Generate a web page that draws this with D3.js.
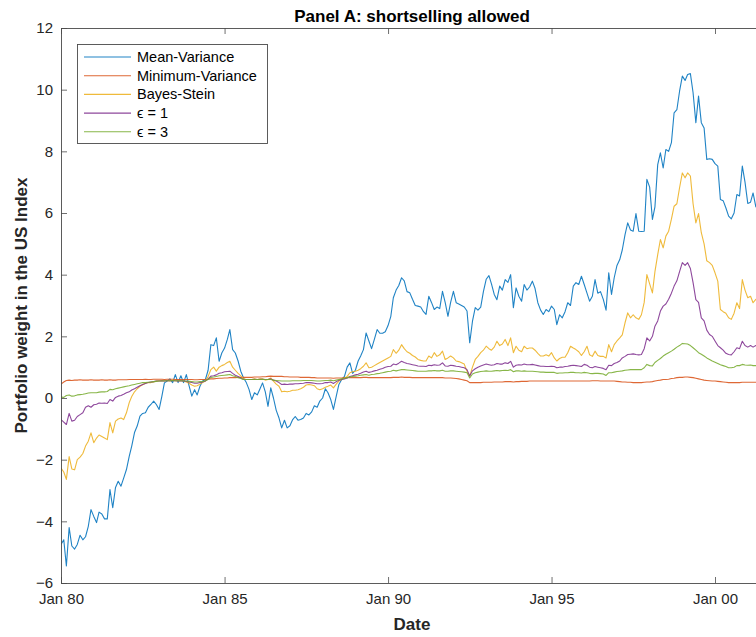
<!DOCTYPE html>
<html>
<head>
<meta charset="utf-8">
<script src="https://cdn.jsdelivr.net/npm/d3@7"></script>
<style>
  body { margin: 0; background: #fff; }
  svg { display: block; }
  text { font-family: "Liberation Sans", Arial, Helvetica, sans-serif; }
</style>
</head>
<body>
<svg id="chart" width="756" height="637"></svg>
<script>
// Monthly observations starting January 1980
const startMonth = new Date(1980, 0, 1);
const endDomain = new Date(2001, 5, 20);

const xTickYears = [1980, 1985, 1990, 1995, 2000];
const yTicks = [-6, -4, -2, 0, 2, 4, 6, 8, 10, 12];

const seriesNames = ["Mean-Variance", "Minimum-Variance", "Bayes-Stein", "\u03F5 = 1", "\u03F5 = 3"];
const seriesColors = ["#0072BD", "#D95319", "#EDB120", "#7E2F8E", "#77AC30"];

const meanVariance = [
  -4.75, -4.6, -5.45, -4.2, -4.8, -4.9, -4.75, -4.45, -4.6, -4.5, -4.16, -3.62,
  -3.84, -4.04, -3.7, -3.76, -3.92, -3.92, -2.97, -3.56, -2.9, -2.7, -2.86, -2.6,
  -2.32, -1.89, -1.56, -1.12, -0.91, -0.59, -0.5, -0.48, -0.3, -0.21, -0.1, -0.21,
  -0.37, 0.06, 0.49, 0.55, 0.62, 0.5, 0.76, 0.5, 0.72, 0.5, 0.76, 0.4,
  0.06, 0.27, 0.1, 0.38, 0.55, 0.6, 0.9, 1.73, 1.7, 1.95, 1.19, 1.46,
  1.62, 1.9, 2.22, 1.57, 1.46, 1.2, 0.87, 0.65, 0.5, 0.28, -0.05, 0.17,
  0.1, 0.3, 0.49, 0.2, -0.27, 0.33, 0.0, -0.4, -0.65, -0.97, -0.72, -0.97,
  -0.9, -0.7, -0.6, -0.72, -0.7, -0.65, -0.5, -0.55, -0.45, -0.25, -0.3, -0.1,
  0.0, 0.3, 0.17, -0.05, -0.37, 0.05, 0.44, 0.6, 0.7, 1.0, 1.14, 0.8,
  0.9, 1.2, 1.36, 1.57, 2.11, 1.85, 1.6, 1.9, 2.22, 2.1, 2.1, 2.15,
  2.35, 2.65, 3.25, 3.5, 3.65, 3.9, 3.8, 3.45, 3.41, 3.2, 3.0, 2.98,
  2.95, 2.8, 2.71, 3.3, 3.1, 2.87, 2.95, 2.9, 3.46, 3.1, 2.65, 3.1,
  3.46, 3.09, 3.05, 3.0, 2.95, 2.82, 1.79, 2.49, 2.93, 2.85, 2.95, 3.45,
  3.85, 3.97, 3.7, 3.36, 3.19, 3.63, 3.5, 3.84, 3.75, 4.0, 2.93, 3.57,
  3.3, 3.14, 3.68, 3.5, 3.6, 3.79, 3.55, 3.09, 2.85, 2.71, 2.87, 2.8,
  2.98, 2.87, 2.38, 2.7, 2.6, 2.8, 3.09, 3.0, 3.63, 3.74, 3.68, 3.95,
  3.68, 3.4, 3.14, 3.3, 3.84, 3.4, 3.45, 3.2, 2.85, 4.06, 3.36, 3.9,
  4.3, 4.49, 4.8, 5.3, 5.68, 5.45, 5.41, 5.98, 5.41, 5.4, 5.41, 7.09,
  6.84, 5.79, 6.2, 7.57, 7.95, 7.46, 8.06, 8.0, 8.28, 9.25, 9.35, 9.95,
  10.44, 10.3, 10.49, 10.52, 9.9, 8.93, 9.79, 8.93, 8.76, 7.74, 7.76, 7.74,
  7.6, 7.52, 6.44, 6.4, 6.17, 5.9, 5.81, 6.0, 6.6, 6.55, 7.52, 7.0,
  6.31, 6.35, 6.65, 6.2, 6.3, 6.1
];

const minimumVariance = [
  0.45, 0.52, 0.57, 0.58, 0.57, 0.58, 0.58, 0.59, 0.58, 0.58, 0.58, 0.59,
  0.58, 0.58, 0.58, 0.59, 0.58, 0.58, 0.59, 0.58, 0.58, 0.59, 0.59, 0.59,
  0.59, 0.6, 0.6, 0.6, 0.6, 0.6, 0.6, 0.61, 0.6, 0.6, 0.61, 0.61,
  0.61, 0.61, 0.6, 0.61, 0.61, 0.61, 0.6, 0.6, 0.6, 0.6, 0.6, 0.6,
  0.6, 0.59, 0.59, 0.6, 0.6, 0.6, 0.61, 0.62, 0.62, 0.63, 0.64, 0.64,
  0.65, 0.65, 0.66, 0.66, 0.66, 0.67, 0.67, 0.67, 0.67, 0.67, 0.67, 0.68,
  0.68, 0.68, 0.69, 0.69, 0.7, 0.71, 0.7, 0.7, 0.7, 0.7, 0.69, 0.69,
  0.68, 0.68, 0.68, 0.68, 0.67, 0.67, 0.67, 0.67, 0.66, 0.66, 0.65, 0.65,
  0.65, 0.65, 0.65, 0.65, 0.64, 0.65, 0.65, 0.65, 0.66, 0.66, 0.66, 0.66,
  0.66, 0.66, 0.66, 0.67, 0.67, 0.66, 0.66, 0.66, 0.66, 0.66, 0.66, 0.66,
  0.66, 0.66, 0.67, 0.67, 0.67, 0.68, 0.67, 0.67, 0.67, 0.66, 0.66, 0.66,
  0.66, 0.66, 0.66, 0.66, 0.66, 0.66, 0.66, 0.66, 0.66, 0.65, 0.65, 0.65,
  0.64, 0.63, 0.62, 0.6, 0.58, 0.56, 0.5, 0.5, 0.5, 0.5, 0.5, 0.51,
  0.51, 0.51, 0.51, 0.52, 0.52, 0.52, 0.52, 0.53, 0.53, 0.53, 0.52, 0.53,
  0.53, 0.54, 0.54, 0.54, 0.55, 0.55, 0.55, 0.55, 0.55, 0.55, 0.55, 0.55,
  0.55, 0.55, 0.55, 0.55, 0.55, 0.55, 0.55, 0.55, 0.55, 0.55, 0.55, 0.55,
  0.55, 0.55, 0.55, 0.56, 0.56, 0.56, 0.55, 0.55, 0.55, 0.55, 0.55, 0.55,
  0.54, 0.53, 0.52, 0.52, 0.51, 0.51, 0.5, 0.5, 0.5, 0.5, 0.51, 0.52,
  0.52, 0.53, 0.55, 0.57, 0.58, 0.6, 0.6, 0.61, 0.63, 0.64, 0.66, 0.67,
  0.67, 0.68, 0.68, 0.67, 0.66, 0.64, 0.62, 0.6, 0.58, 0.57, 0.56, 0.55,
  0.55, 0.54, 0.53, 0.52, 0.51, 0.5, 0.5, 0.5, 0.5, 0.5, 0.51, 0.51,
  0.51, 0.51, 0.51, 0.51, 0.51, 0.51
];

const bayesStein = [
  -2.27, -2.4, -2.64, -1.9, -2.3, -2.33, -2.0, -1.92, -1.8, -1.56, -1.4, -1.13,
  -1.45, -1.3, -1.2, -1.25, -1.3, -1.35, -0.8, -1.13, -0.75, -0.68, -0.65, -0.7,
  -0.48, -0.15, 0.05, 0.2, 0.3, 0.38, 0.43, 0.48, 0.5, 0.5, 0.52, 0.55,
  0.56, 0.57, 0.55, 0.57, 0.55, 0.58, 0.56, 0.55, 0.57, 0.55, 0.52, 0.48,
  0.42, 0.38, 0.4, 0.45, 0.5, 0.55, 0.7, 0.92, 1.0, 0.87, 1.0, 1.05,
  1.09, 1.15, 1.19, 1.0, 0.9, 0.8, 0.72, 0.62, 0.6, 0.6, 0.6, 0.62,
  0.6, 0.62, 0.62, 0.58, 0.6, 0.65, 0.55, 0.45, 0.38, 0.2, 0.22, 0.2,
  0.22, 0.25, 0.25, 0.27, 0.3, 0.35, 0.42, 0.44, 0.42, 0.4, 0.3, 0.27,
  0.3, 0.35, 0.38, 0.42, 0.33, 0.45, 0.55, 0.6, 0.65, 0.7, 0.82, 0.85,
  0.87, 0.9, 0.95, 1.03, 1.14, 0.98, 1.0, 1.05, 1.1, 1.15, 1.2, 1.25,
  1.3, 1.35, 1.57, 1.45, 1.55, 1.73, 1.6, 1.5, 1.45, 1.38, 1.33, 1.25,
  1.22, 1.2, 1.2, 1.36, 1.3, 1.47, 1.35, 1.4, 1.52, 1.25, 1.3, 1.36,
  1.3, 1.2, 1.18, 1.14, 1.1, 0.87, 0.71, 1.0, 1.25, 1.35, 1.47, 1.55,
  1.68, 1.6, 1.55, 1.65, 1.84, 1.7, 1.75, 1.9, 1.7, 1.95, 1.47, 1.68,
  1.55, 1.5, 1.68, 1.6, 1.62, 1.62, 1.55, 1.45, 1.36, 1.36, 1.4, 1.36,
  1.47, 1.3, 1.2, 1.28, 1.32, 1.32, 1.47, 1.68, 1.62, 1.57, 1.5, 1.38,
  1.5, 1.68, 1.4, 1.35, 1.52, 1.38, 1.35, 1.35, 1.3, 1.73, 1.5, 1.73,
  1.85, 1.95, 2.05, 2.44, 2.76, 2.6, 2.7, 2.6, 2.55, 2.7, 3.1, 4.0,
  3.7, 3.41, 4.1, 4.65, 5.14, 4.87, 5.25, 5.41, 5.8, 6.22, 6.3, 6.82,
  7.3, 7.14, 7.3, 7.2, 6.3, 5.68, 5.98, 5.36, 5.0, 4.45, 4.39, 4.3,
  4.06, 3.79, 2.87, 2.8, 2.75, 2.6, 2.55, 2.75, 3.09, 2.9, 3.84, 3.5,
  3.25, 3.3, 3.09, 3.2, 3.15, 3.1
];

const epsilonOne = [
  -0.7, -0.78, -0.86, -0.5, -0.75, -0.72, -0.6, -0.54, -0.48, -0.3, -0.25, -0.3,
  -0.22, -0.2, -0.16, -0.17, -0.16, -0.18, -0.05, -0.1, 0.02, 0.06, 0.08, 0.12,
  0.17, 0.2, 0.26, 0.3, 0.35, 0.4, 0.44, 0.47, 0.5, 0.52, 0.53, 0.55,
  0.55, 0.56, 0.55, 0.57, 0.56, 0.57, 0.56, 0.55, 0.56, 0.55, 0.54, 0.52,
  0.5, 0.48, 0.48, 0.5, 0.52, 0.55, 0.62, 0.71, 0.72, 0.75, 0.8, 0.82,
  0.85, 0.86, 0.87, 0.8, 0.74, 0.7, 0.65, 0.6, 0.6, 0.6, 0.6, 0.61,
  0.6, 0.61, 0.61, 0.6, 0.6, 0.62, 0.58, 0.55, 0.5, 0.44, 0.45, 0.44,
  0.45, 0.45, 0.46, 0.46, 0.47, 0.48, 0.5, 0.5, 0.49, 0.48, 0.46, 0.46,
  0.47, 0.5, 0.5, 0.52, 0.47, 0.53, 0.58, 0.6, 0.62, 0.65, 0.7, 0.72,
  0.75, 0.77, 0.8, 0.84, 0.87, 0.83, 0.85, 0.88, 0.9, 0.93, 0.96, 1.0,
  1.02, 1.03, 1.1, 1.08, 1.13, 1.19, 1.15, 1.12, 1.1, 1.08, 1.06, 1.04,
  1.03, 1.03, 1.02, 1.06, 1.05, 1.08, 1.06, 1.07, 1.14, 1.04, 1.03, 1.06,
  1.05, 1.03, 1.02, 1.0, 0.98, 0.92, 0.71, 0.88, 0.95, 1.0, 1.04, 1.07,
  1.1, 1.08, 1.06, 1.08, 1.12, 1.1, 1.1, 1.14, 1.12, 1.19, 1.0, 1.06,
  1.08, 1.07, 1.1, 1.08, 1.08, 1.09, 1.07, 1.05, 1.03, 1.03, 1.02, 1.02,
  1.03, 1.02, 0.98, 1.0, 1.0, 1.02, 1.03, 1.05, 1.06, 1.05, 1.04, 1.02,
  1.09, 1.06, 1.0, 0.98, 1.02, 1.0, 0.98, 0.96, 0.92, 1.06, 1.05, 1.12,
  1.15, 1.2, 1.3, 1.35, 1.41, 1.42, 1.43, 1.41, 1.4, 1.41, 1.6, 1.95,
  1.85, 2.0, 2.33, 2.5, 2.82, 2.98, 3.05, 3.2, 3.4, 3.63, 3.8, 4.1,
  4.39, 4.3, 4.39, 4.2, 3.74, 3.19, 3.1, 2.6, 2.5, 2.2, 2.06, 2.0,
  1.85, 1.7, 1.63, 1.55, 1.45, 1.41, 1.4, 1.5, 1.63, 1.6, 1.84, 1.7,
  1.65, 1.7, 1.65, 1.7, 1.65, 1.6
];

const epsilonThree = [
  0.03, 0.02, 0.08, 0.1, 0.06, 0.07, 0.1, 0.11, 0.12, 0.14, 0.16, 0.17,
  0.17, 0.17, 0.19, 0.2, 0.2, 0.21, 0.28, 0.27, 0.3, 0.32, 0.34, 0.36,
  0.38, 0.4, 0.42, 0.44, 0.46, 0.48, 0.5, 0.5, 0.51, 0.52, 0.53, 0.54,
  0.55, 0.55, 0.56, 0.56, 0.56, 0.57, 0.56, 0.56, 0.56, 0.55, 0.55, 0.54,
  0.53, 0.52, 0.52, 0.53, 0.54, 0.56, 0.6, 0.67, 0.68, 0.7, 0.72, 0.73,
  0.74, 0.75, 0.76, 0.72, 0.7, 0.66, 0.63, 0.6, 0.6, 0.6, 0.6, 0.6,
  0.6, 0.6, 0.61, 0.6, 0.6, 0.6, 0.58, 0.57, 0.56, 0.55, 0.55, 0.55,
  0.55, 0.56, 0.56, 0.56, 0.56, 0.57, 0.57, 0.57, 0.57, 0.56, 0.55, 0.55,
  0.56, 0.57, 0.57, 0.58, 0.56, 0.58, 0.6, 0.62, 0.64, 0.66, 0.68, 0.7,
  0.71, 0.72, 0.74, 0.75, 0.76, 0.74, 0.76, 0.77, 0.79, 0.8, 0.82, 0.84,
  0.86, 0.87, 0.9, 0.88, 0.9, 0.92, 0.92, 0.91, 0.9, 0.89, 0.88, 0.87,
  0.87, 0.87, 0.87, 0.88, 0.88, 0.89, 0.88, 0.88, 0.9, 0.87, 0.87, 0.88,
  0.88, 0.87, 0.86, 0.85, 0.84, 0.82, 0.65, 0.78, 0.82, 0.84, 0.86, 0.87,
  0.88, 0.87, 0.87, 0.88, 0.89, 0.88, 0.89, 0.9, 0.89, 0.92, 0.85, 0.88,
  0.88, 0.87, 0.88, 0.87, 0.87, 0.87, 0.86, 0.85, 0.84, 0.84, 0.83, 0.83,
  0.83, 0.83, 0.8, 0.81, 0.81, 0.82, 0.82, 0.83, 0.83, 0.82, 0.82, 0.81,
  0.83, 0.82, 0.8, 0.79, 0.8, 0.8, 0.79, 0.78, 0.73, 0.82, 0.82, 0.84,
  0.86, 0.87, 0.88, 0.9, 0.91, 0.92, 0.92, 0.92, 0.92, 0.92, 0.98, 1.09,
  1.05, 1.04, 1.15, 1.22, 1.28, 1.36, 1.42, 1.47, 1.52, 1.58, 1.65, 1.7,
  1.77, 1.76, 1.75, 1.7, 1.63, 1.55, 1.47, 1.42, 1.36, 1.3, 1.25, 1.2,
  1.16, 1.12, 1.08, 1.05, 1.02, 0.98, 0.98, 1.0, 1.05, 1.05, 1.09, 1.07,
  1.06, 1.07, 1.05, 1.05, 1.04, 1.04
];

const seriesValues = [meanVariance, minimumVariance, bayesStein, epsilonOne, epsilonThree];

// ---- layout ----
const svg = d3.select("#chart");
const plot = { left: 61, top: 28, right: 763, bottom: 583 };
const axisColor = "#4a4a4a";
const textColor = "#262626";
const labelFont = "15px";

const x = d3.scaleTime().domain([startMonth, endDomain]).range([plot.left, plot.right]);
const y = d3.scaleLinear().domain([-6, 12]).range([plot.bottom, plot.top]);

const months = seriesValues[0].map((_, i) => d3.timeMonth.offset(startMonth, i));
const xTickDates = xTickYears.map(yr => new Date(yr, 0, 1));

svg.append("defs").append("clipPath").attr("id", "plotClip")
  .append("rect")
  .attr("x", plot.left).attr("y", plot.top)
  .attr("width", plot.right - plot.left).attr("height", plot.bottom - plot.top);

// series lines, drawn in order so the later ones sit on top
const line = d3.line()
  .x((d, i) => x(months[i]))
  .y(d => y(d));

const linesG = svg.append("g").attr("clip-path", "url(#plotClip)");
seriesValues.forEach((vals, k) => {
  linesG.append("path")
    .datum(vals)
    .attr("fill", "none")
    .attr("stroke", seriesColors[k])
    .attr("stroke-width", 1.1)
    .attr("stroke-opacity", 0.88)
    .attr("stroke-linejoin", "round")
    .attr("d", line);
});

// axes with inward ticks on all four sides
function styleAxis(g) {
  g.select(".domain").remove();
  g.selectAll(".tick line").attr("stroke", axisColor).attr("stroke-width", 0.8);
  g.selectAll(".tick text").attr("fill", textColor).style("font-size", labelFont)
    .attr("font-family", "'Liberation Sans', Arial, Helvetica, sans-serif");
}

svg.append("g")
  .attr("transform", `translate(0,${plot.bottom})`)
  .call(d3.axisBottom(x).tickValues(xTickDates).tickFormat(d3.timeFormat("%b %y"))
    .tickSizeInner(-6).tickSizeOuter(0).tickPadding(10))
  .call(styleAxis);

svg.append("g")
  .attr("transform", `translate(0,${plot.top})`)
  .call(d3.axisTop(x).tickValues(xTickDates).tickFormat("").tickSizeInner(-6).tickSizeOuter(0))
  .call(styleAxis);

svg.append("g")
  .attr("transform", `translate(${plot.left},0)`)
  .call(d3.axisLeft(y).tickValues(yTicks).tickFormat(d3.format("d"))
    .tickSizeInner(-6).tickSizeOuter(0).tickPadding(8))
  .call(styleAxis);

svg.append("g")
  .attr("transform", `translate(${plot.right},0)`)
  .call(d3.axisRight(y).tickValues(yTicks).tickFormat("").tickSizeInner(-6).tickSizeOuter(0))
  .call(styleAxis);

// axes box
svg.append("rect")
  .attr("x", plot.left + 0.5).attr("y", plot.top + 0.5)
  .attr("width", plot.right - plot.left).attr("height", plot.bottom - plot.top)
  .attr("fill", "none").attr("stroke", axisColor).attr("stroke-width", 0.9);

// titles
const midX = (plot.left + plot.right) / 2;
svg.append("text")
  .attr("x", midX).attr("y", 22)
  .attr("text-anchor", "middle")
  .style("font-size", "17px").style("font-weight", "bold")
  .attr("fill", "#000")
  .text("Panel A: shortselling allowed");

svg.append("text")
  .attr("x", midX).attr("y", 630)
  .attr("text-anchor", "middle")
  .style("font-size", "17px").style("font-weight", "bold")
  .attr("fill", textColor)
  .text("Date");

svg.append("text")
  .attr("transform", `translate(27,${(plot.top + plot.bottom) / 2}) rotate(-90)`)
  .attr("text-anchor", "middle")
  .style("font-size", "17px").style("font-weight", "bold")
  .attr("fill", textColor)
  .text("Portfolio weight in the US Index");

// legend
const legend = svg.append("g").attr("transform", "translate(77,44)");
legend.append("rect")
  .attr("x", 0.5).attr("y", 0.5).attr("width", 190).attr("height", 99)
  .attr("fill", "#fff").attr("stroke", axisColor).attr("stroke-width", 0.9);

seriesNames.forEach((name, k) => {
  const rowY = 13 + k * 18.7;
  legend.append("line")
    .attr("x1", 7).attr("x2", 54).attr("y1", rowY).attr("y2", rowY)
    .attr("stroke", seriesColors[k]).attr("stroke-width", 1.1)
    .attr("stroke-opacity", 0.88);
  legend.append("text")
    .attr("x", 60).attr("y", rowY).attr("dy", "0.35em")
    .style("font-size", "14.5px")
    .attr("fill", "#000")
    .text(name);
});
</script>
</body>
</html>
